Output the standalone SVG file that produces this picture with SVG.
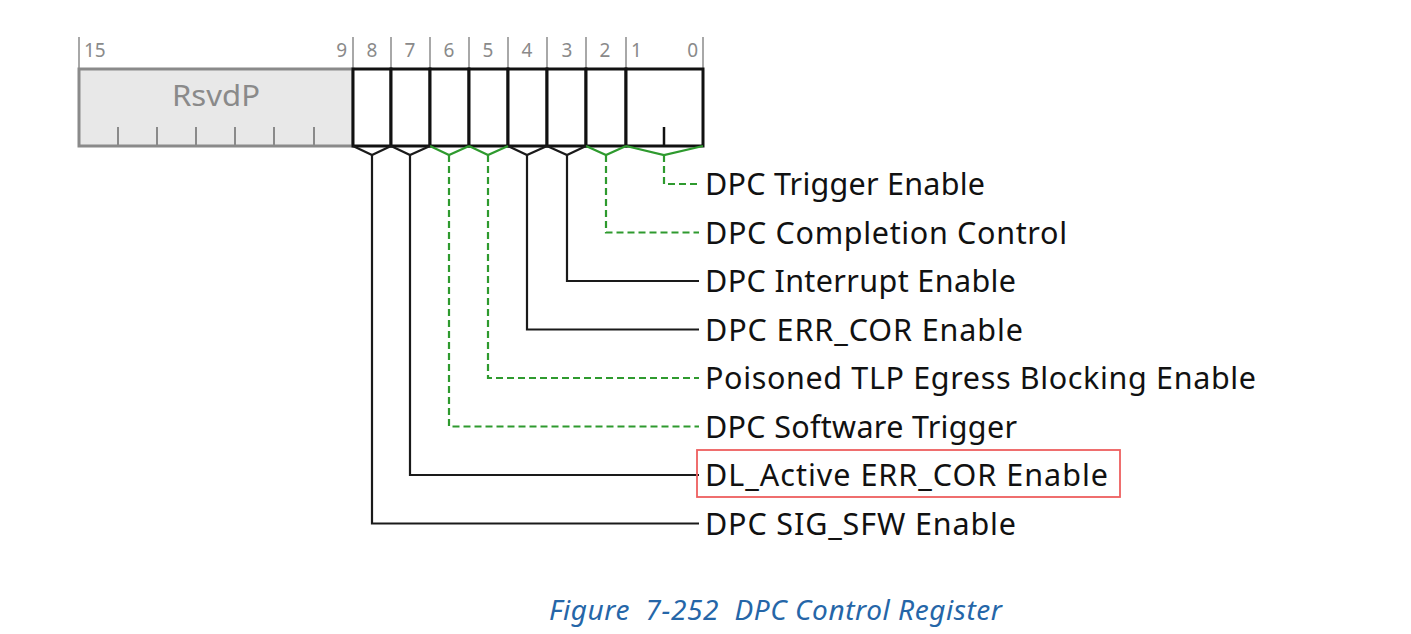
<svg xmlns="http://www.w3.org/2000/svg" width="1411" height="634" viewBox="0 0 1411 634">
  <style>
    .bitnum { font-family: "Noto Sans", "Open Sans", sans-serif; font-size: 19px; fill: #8a8a8a; }
    .label { font-family: "Noto Sans", "Open Sans", sans-serif; font-size: 30.5px; fill: #111; }
    .caption { font-family: "Noto Sans", "Open Sans", sans-serif; font-size: 28px; font-style: italic; fill: #2566a8; }
    .sep { stroke: #a8a8a8; stroke-width: 2; fill: none; }
    .cell { stroke: #111; stroke-width: 3; fill: #fff; }
    .solid { stroke: #1a1a1a; stroke-width: 2.2; fill: none; }
    .dash { stroke: #2e9a2e; stroke-width: 2.2; fill: none; stroke-dasharray: 7 4; }
    .brk-k { stroke: #1a1a1a; stroke-width: 2.2; fill: none; }
    .brk-g { stroke: #2e9a2e; stroke-width: 2.2; fill: none; }
  </style>
  <rect width="1411" height="634" fill="#ffffff"/>

  <!-- bit position ruler -->
  <g id="ruler">
    <path class="sep" d="M79,37V69 M353,37V69 M391,37V69 M430,37V69 M469,37V69 M508,37V69 M547,37V69 M586,37V69 M626,37V69 M703,37V69"/>
    <text class="bitnum" x="84" y="57">15</text>
    <text class="bitnum" x="347" y="57" text-anchor="end">9</text>
    <text class="bitnum" x="372" y="57" text-anchor="middle">8</text>
    <text class="bitnum" x="410" y="57" text-anchor="middle">7</text>
    <text class="bitnum" x="449" y="57" text-anchor="middle">6</text>
    <text class="bitnum" x="488" y="57" text-anchor="middle">5</text>
    <text class="bitnum" x="527" y="57" text-anchor="middle">4</text>
    <text class="bitnum" x="567" y="57" text-anchor="middle">3</text>
    <text class="bitnum" x="605" y="57" text-anchor="middle">2</text>
    <text class="bitnum" x="631" y="57">1</text>
    <text class="bitnum" x="698" y="57" text-anchor="end">0</text>
  </g>

  <!-- reserved field, bits 15:9 -->
  <g id="rsvdp">
    <rect x="79" y="69" width="274" height="77" fill="#e8e8e8" stroke="#8a8a8a" stroke-width="3"/>
    <path d="M118,127V146 M157,127V146 M196,127V146 M235,127V146 M274,127V146 M314,127V146" stroke="#8a8a8a" stroke-width="2"/>
    <text x="172" y="106" textLength="88" lengthAdjust="spacingAndGlyphs" font-family="Noto Sans, Open Sans, sans-serif" font-size="29" fill="#8a8a8a">RsvdP</text>
  </g>

  <!-- bit cells 8..0 -->
  <g id="bit8"><rect class="cell" x="353" y="69" width="38" height="77"/></g>
  <g id="bit7"><rect class="cell" x="391" y="69" width="39" height="77"/></g>
  <g id="bit6"><rect class="cell" x="430" y="69" width="39" height="77"/></g>
  <g id="bit5"><rect class="cell" x="469" y="69" width="39" height="77"/></g>
  <g id="bit4"><rect class="cell" x="508" y="69" width="39" height="77"/></g>
  <g id="bit3"><rect class="cell" x="547" y="69" width="39" height="77"/></g>
  <g id="bit2"><rect class="cell" x="586" y="69" width="40" height="77"/></g>
  <g id="bit1-0">
    <rect class="cell" x="626" y="69" width="77" height="77"/>
    <path d="M664,127V146" stroke="#111" stroke-width="2.5"/>
  </g>

  <!-- leader lines from each field to its label -->
  <g id="connectors">
    <!-- bit 1:0 -->
    <path class="brk-g" d="M626,146L664,155L703,146"/>
    <path class="dash" d="M664,155V184H699"/>
    <!-- bit 2 -->
    <path class="brk-g" d="M586,146L606,155L626,146"/>
    <path class="dash" d="M606,155V232.5H699"/>
    <!-- bit 3 -->
    <path class="brk-k" d="M547,146L567,155L586,146"/>
    <path class="solid" d="M567,155V281H699"/>
    <!-- bit 4 -->
    <path class="brk-k" d="M508,146L527,155L547,146"/>
    <path class="solid" d="M527,155V329.5H699"/>
    <!-- bit 5 -->
    <path class="brk-g" d="M469,146L488,155L508,146"/>
    <path class="dash" d="M488,155V378H699"/>
    <!-- bit 6 -->
    <path class="brk-g" d="M430,146L449,155L469,146"/>
    <path class="dash" d="M449,155V426.5H699"/>
    <!-- bit 7 -->
    <path class="brk-k" d="M391,146L410,155L430,146"/>
    <path class="solid" d="M410,155V475H699"/>
    <!-- bit 8 -->
    <path class="brk-k" d="M353,146L372,155L391,146"/>
    <path class="solid" d="M372,155V523.5H699"/>
  </g>

  <!-- field labels -->
  <g id="labels">
    <text class="label" x="705" y="195" textLength="280">DPC Trigger Enable</text>
    <text class="label" x="705" y="243.5" textLength="362">DPC Completion Control</text>
    <text class="label" x="705" y="292" textLength="311">DPC Interrupt Enable</text>
    <text class="label" x="705" y="340.5" textLength="318">DPC ERR_COR Enable</text>
    <text class="label" x="705" y="389" textLength="551">Poisoned TLP Egress Blocking Enable</text>
    <text class="label" x="705" y="437.5" textLength="312">DPC Software Trigger</text>
    <text class="label" x="705" y="486" textLength="403">DL_Active ERR_COR Enable</text>
    <text class="label" x="705" y="534.5" textLength="311">DPC SIG_SFW Enable</text>
  </g>

  <!-- highlight frame -->
  <g id="highlight">
    <rect x="697" y="450" width="423" height="47" fill="none" stroke="#ee5f5f" stroke-width="1.8"/>
  </g>

  <text class="caption" x="549" y="620" textLength="453" xml:space="preserve">Figure  7-252  DPC Control Register</text>
</svg>
